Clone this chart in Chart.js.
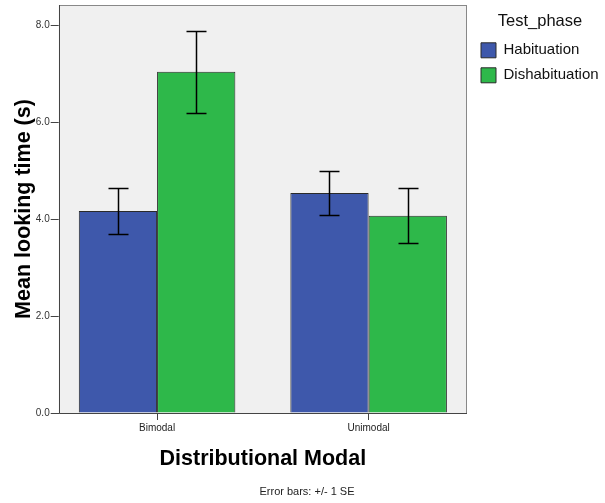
<!DOCTYPE html>
<html>
<head>
<meta charset="utf-8">
<script src="https://cdn.jsdelivr.net/npm/chart.js@4"></script>
<style>
  html, body { margin: 0; padding: 0; background: #fff; }
  #wrap { width: 605px; height: 503px; }
</style>
</head>
<body>
<div id="wrap"><canvas id="myChart" width="605" height="503"></canvas></div>
<script>
// data
const categories = ['Bimodal', 'Unimodal'];
const phases = ['Habituation', 'Dishabituation'];
const habMeans = [4.17, 4.54];
const habSE = [0.48, 0.45];
const disMeans = [7.04, 4.07];
const disSE = [0.85, 0.57];
const yTicks = [0, 2, 4, 6, 8];

const FONT = 'Liberation Sans, Arial, sans-serif';

function toPoints(vals) {
  return vals.map(function(v, i) { return { x: i, y: v }; });
}

// grey plot background + frame
const plotFrame = {
  id: 'plotFrame',
  beforeDatasetsDraw: function(chart) {
    const a = chart.chartArea, ctx = chart.ctx;
    ctx.save();
    ctx.fillStyle = '#f0f0f0';
    ctx.fillRect(a.left, a.top, a.right - a.left, a.bottom - a.top);
    ctx.restore();
  },
  afterDatasetsDraw: function(chart) {
    const a = chart.chartArea, ctx = chart.ctx;
    ctx.save();
    ctx.strokeStyle = '#888';
    ctx.lineWidth = 1;
    ctx.strokeRect(Math.round(a.left) + 0.5, Math.round(a.top) + 0.5,
      Math.round(a.right - a.left) - 1, Math.round(a.bottom - a.top));
    ctx.strokeStyle = '#444';
    ctx.beginPath();
    ctx.moveTo(Math.round(a.left) + 0.5, a.top);
    ctx.lineTo(Math.round(a.left) + 0.5, Math.round(a.bottom) + 0.5);
    ctx.lineTo(a.right, Math.round(a.bottom) + 0.5);
    ctx.stroke();
    ctx.restore();
  }
};

// error bars from the SE arrays
const errorBars = {
  id: 'errorBars',
  afterDatasetsDraw: function(chart) {
    const ctx = chart.ctx, y = chart.scales.y;
    ctx.save();
    ctx.strokeStyle = '#000';
    ctx.lineWidth = 1.5;
    chart.data.datasets.forEach(function(ds, di) {
      const meta = chart.getDatasetMeta(di);
      meta.data.forEach(function(bar, i) {
        const m = ds.data[i].y, se = ds.se[i];
        const top = Math.round(y.getPixelForValue(m + se)) + 0.5;
        const bot = Math.round(y.getPixelForValue(m - se)) + 0.5;
        const cx = Math.round(bar.x) + 0.5;
        ctx.beginPath();
        ctx.moveTo(cx, top); ctx.lineTo(cx, bot);
        ctx.moveTo(cx - 10, top); ctx.lineTo(cx + 10, top);
        ctx.moveTo(cx - 10, bot); ctx.lineTo(cx + 10, bot);
        ctx.stroke();
      });
    });
    ctx.restore();
  }
};

// legend box a bit wider and nudged right, like the SPSS one
const legendTweak = {
  id: 'legendTweak',
  beforeUpdate: function(chart) {
    const lg = chart.legend;
    if (lg && !lg._patched) {
      const fit = lg.fit;
      lg.fit = function() {
        fit.call(this);
        this.width = 138;
      };
      lg._patched = true;
    }
  },
  afterLayout: function(chart) {
    chart.legend.left += 4;
    chart.legend.right += 4;
  }
};

const ThisChart = document.getElementById('myChart');
const myChart = new Chart(ThisChart, {
  type: 'bar',
  data: {
    datasets: [
      {
        label: phases[0],
        data: toPoints(habMeans),
        se: habSE,
        backgroundColor: '#3e58ab',
        borderColor: '#2a2a2a',
        borderWidth: 1,
        barPercentage: 1.0,
        categoryPercentage: 0.74
      },
      {
        label: phases[1],
        data: toPoints(disMeans),
        se: disSE,
        backgroundColor: '#2eb84a',
        borderColor: '#2a2a2a',
        borderWidth: 1,
        barPercentage: 1.0,
        categoryPercentage: 0.74
      }
    ]
  },
  options: {
    responsive: false,
    animation: false,
    layout: { padding: { left: 9, top: 5, right: 0, bottom: 3 } },
    scales: {
      x: {
        type: 'linear',
        offset: false,
        min: -0.465,
        max: 1.465,
        afterBuildTicks: function(scale) {
          scale.ticks = categories.map(function(c, i) { return { value: i }; });
        },
        ticks: {
          callback: function(v) { return categories[v]; },
          font: { family: FONT, size: 10 },
          color: '#222',
          padding: 2,
          maxRotation: 0
        },
        grid: { offset: false, drawOnChartArea: false, drawTicks: true, tickLength: 7, color: '#444' },
        border: { display: false },
        title: {
          display: true,
          text: 'Distributional Modal',
          font: { family: FONT, size: 21.5, weight: 'bold' },
          color: '#000',
          padding: { top: 10, bottom: 0 }
        }
      },
      y: {
        min: 0,
        max: 8.42,
        afterBuildTicks: function(scale) {
          scale.ticks = yTicks.map(function(v) { return { value: v }; });
        },
        afterFit: function(scale) {
          scale.paddingTop = 0;
          scale.paddingBottom = 0;
        },
        ticks: {
          callback: function(v) { return v.toFixed(1); },
          font: { family: FONT, size: 10 },
          color: '#333',
          padding: 1
        },
        grid: { drawOnChartArea: false, drawTicks: true, tickLength: 8, color: '#444' },
        border: { display: false },
        title: {
          display: true,
          text: 'Mean looking time (s)',
          font: { family: FONT, size: 21.5, weight: 'bold' },
          color: '#000',
          padding: { top: 2, bottom: -2 }
        }
      }
    },
    plugins: {
      legend: {
        position: 'right',
        align: 'start',
        title: {
          display: true,
          text: 'Test_phase',
          font: { family: FONT, size: 16.5 },
          color: '#111',
          padding: { top: 8, bottom: 0 }
        },
        labels: {
          boxWidth: 15,
          boxHeight: 15,
          padding: 10,
          font: { family: FONT, size: 15 },
          color: '#111'
        }
      },
      subtitle: {
        display: true,
        position: 'bottom',
        text: 'Error bars: +/- 1 SE',
        font: { family: FONT, size: 11 },
        color: '#222',
        padding: { top: 14, bottom: 1 }
      },
      tooltip: { enabled: false }
    }
  },
  plugins: [plotFrame, errorBars, legendTweak]
});
</script>
</body>
</html>
